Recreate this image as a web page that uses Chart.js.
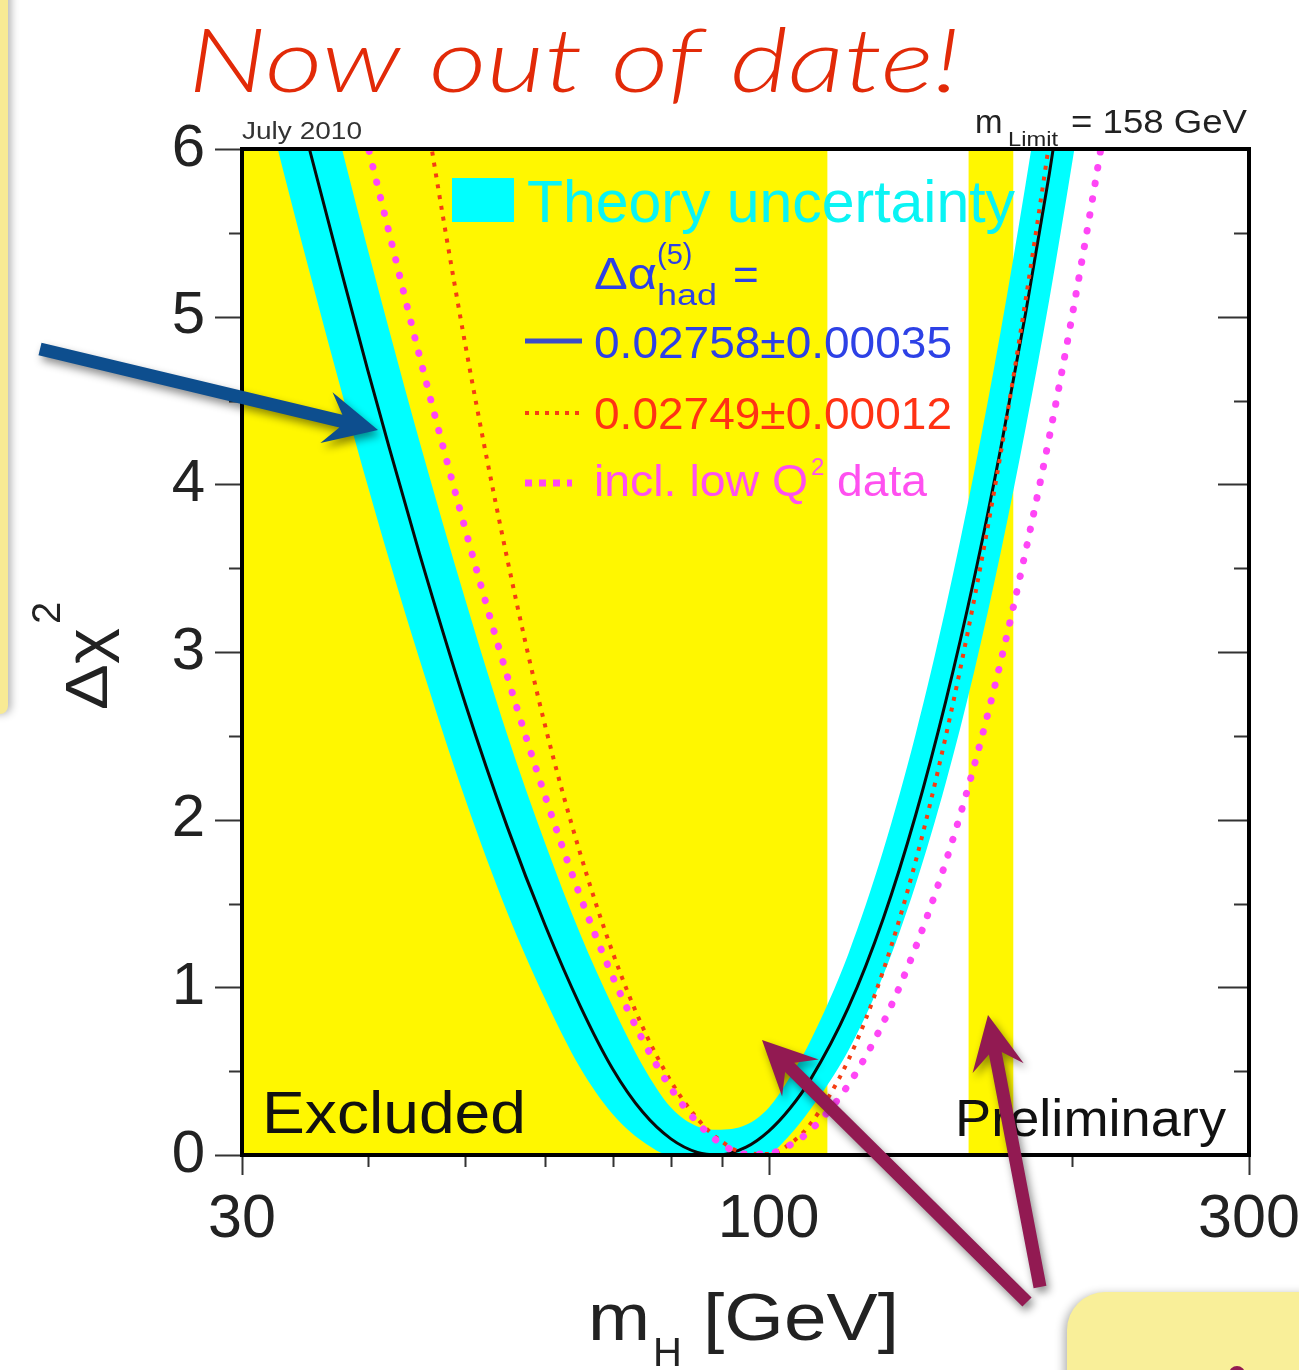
<!DOCTYPE html>
<html>
<head>
<meta charset="utf-8">
<script src="https://cdn.jsdelivr.net/npm/chart.js@4.4.1/dist/chart.umd.min.js"></script>
<style>
  html, body { margin: 0; padding: 0; background: #ffffff; overflow: hidden; }
  canvas { display: block; }
</style>
</head>
<body>
<canvas id="chart" width="1299" height="1370"></canvas>
<script>
// Higgs mass scan: delta chi^2 of the electroweak fit versus m_H (GeV)
const massH = [30, 33, 35, 38, 40, 42, 45, 50, 55, 60, 65, 70, 75, 80, 85, 89, 95, 100, 105, 110, 120, 130, 140, 150, 160, 170, 180, 190, 200, 210, 220];

// central fit, delta alpha_had = 0.02758 +- 0.00035
const chi2Fit = [7.64, 6.62, 6.00, 5.18, 4.68, 4.22, 3.59, 2.69, 1.96, 1.37, 0.89, 0.515, 0.256, 0.096, 0.015, 0.0, 0.047, 0.141, 0.277, 0.448, 0.879, 1.411, 2.028, 2.709, 3.437, 4.211, 5.02, 5.85, 6.71, 7.58, 8.47];

// theory uncertainty band (upper / lower edge)
const bandUpper = [8.44, 7.40, 6.78, 5.92, 5.40, 4.92, 4.26, 3.31, 2.51, 1.86, 1.32, 0.887, 0.533, 0.284, 0.17, 0.15, 0.18, 0.281, 0.464, 0.679, 1.198, 1.817, 2.511, 3.268, 4.07, 4.91, 5.79, 6.69, 7.60, 8.5, 9.4];
const bandLower = [6.86, 5.86, 5.27, 4.47, 3.99, 3.55, 2.96, 2.12, 1.45, 0.93, 0.52, 0.244, 0.080, 0.0, 0.0, 0.0, 0.0, 0.01, 0.12, 0.271, 0.622, 1.072, 1.614, 2.222, 2.881, 3.59, 4.334, 5.10, 5.90, 6.71, 7.55];

// delta alpha_had = 0.02749 +- 0.00012
const chi2Alt = [14.9, 12.6, 11.3, 9.57, 8.56, 7.66, 6.46, 4.83, 3.56, 2.56, 1.80, 1.21, 0.762, 0.439, 0.216, 0.099, 0.010, 0.006, 0.066, 0.184, 0.566, 1.10, 1.753, 2.50, 3.31, 4.18, 5.10, 6.04, 7.01, 8.00, 9.01];

// including low Q^2 data
const chi2LowQ2 = [9.34, 8.20, 7.52, 6.59, 6.02, 5.50, 4.77, 3.73, 2.86, 2.14, 1.545, 1.065, 0.686, 0.398, 0.193, 0.083, 0.005, 0.009, 0.059, 0.146, 0.418, 0.79, 1.24, 1.75, 2.32, 2.94, 3.60, 4.28, 4.99, 5.72, 6.46];

// direct search exclusions (GeV)
const excludedRanges = [[30, 114.4], [158, 175]];

// axes
const xTickValues = [30, 40, 50, 60, 70, 80, 90, 100, 200, 300];
const xLabelled = [30, 100, 300];
const yTickValues = [0, 1, 2, 3, 4, 5, 6];
const yMinorValues = [0.5, 1.5, 2.5, 3.5, 4.5, 5.5];

const FONT = '"Liberation Sans", Helvetica, Arial, sans-serif';
const C_YELLOW = '#fff700';
const C_CYAN = '#00ffff';
const C_RED = '#f53d12';
const C_MAGENTA = '#ff46f6';
const C_BLUE_TXT = '#2d41e6';
const C_PURPLE = '#921a52';

const toXY = ys => massH.map((m, i) => ({ x: m, y: ys[i] }));

function txt(ctx, s, x, y, px, color, opts = {}) {
  ctx.save();
  ctx.font = (opts.style || '') + ' ' + px + 'px ' + (opts.family || FONT);
  ctx.fillStyle = color;
  ctx.textAlign = 'left';
  ctx.textBaseline = 'alphabetic';
  ctx.translate(x, y);
  if (opts.rotate) ctx.rotate(opts.rotate);
  if (opts.width) {
    const w = ctx.measureText(s).width;
    ctx.scale(opts.width / w, 1);
  }
  ctx.fillText(s, 0, 0);
  ctx.restore();
}

function arrow(ctx, x0, y0, x1, y1, w, hl, hw, color) {
  const dx = x1 - x0, dy = y1 - y0, L = Math.hypot(dx, dy);
  const ux = dx / L, uy = dy / L, px = -uy, py = ux;
  const bx = x1 - ux * hl, by = y1 - uy * hl;
  const nx = x1 - ux * hl * 0.72, ny = y1 - uy * hl * 0.72;
  ctx.save();
  ctx.shadowColor = 'rgba(0,0,0,0.45)';
  ctx.shadowBlur = 9;
  ctx.shadowOffsetX = 3;
  ctx.shadowOffsetY = 5;
  ctx.fillStyle = color;
  ctx.beginPath();
  ctx.moveTo(x0 + px * w / 2, y0 + py * w / 2);
  ctx.lineTo(nx + px * w / 2, ny + py * w / 2);
  ctx.lineTo(bx + px * hw, by + py * hw);
  ctx.lineTo(x1, y1);
  ctx.lineTo(bx - px * hw, by - py * hw);
  ctx.lineTo(nx - px * w / 2, ny - py * w / 2);
  ctx.lineTo(x0 - px * w / 2, y0 - py * w / 2);
  ctx.closePath();
  ctx.fill();
  ctx.restore();
}

const decor = {
  id: 'decor',
  beforeDraw(chart) {
    const ctx = chart.ctx;
    ctx.save();
    ctx.fillStyle = '#ffffff';
    ctx.fillRect(0, 0, chart.width, chart.height);
    // slide frame strip on the left
    ctx.shadowColor = 'rgba(0,0,0,0.3)';
    ctx.shadowBlur = 8;
    ctx.shadowOffsetX = 3;
    ctx.fillStyle = '#f8ea94';
    ctx.beginPath();
    ctx.roundRect(-20, -20, 28, 734, 8);
    ctx.fill();
    ctx.restore();
  },
  beforeDatasetsDraw(chart) {
    const { ctx, chartArea: a, scales: { x } } = chart;
    ctx.save();
    ctx.fillStyle = C_YELLOW;
    excludedRanges.forEach(([lo, hi]) => {
      const x0 = x.getPixelForValue(lo), x1 = x.getPixelForValue(hi);
      ctx.fillRect(x0, a.top, x1 - x0, a.bottom - a.top);
    });
    ctx.restore();
  },
  afterDatasetsDraw(chart) {
    const ctx = chart.ctx;
    // legend
    ctx.save();
    ctx.fillStyle = C_CYAN;
    ctx.fillRect(452, 178, 62, 44);
    ctx.restore();
    txt(ctx, 'Theory uncertainty', 527, 222, 60, '#0af4f4', { width: 488 });
    txt(ctx, 'Δα', 594, 289, 44, C_BLUE_TXT, { width: 63 });
    txt(ctx, '(5)', 657, 264, 29, C_BLUE_TXT);
    txt(ctx, 'had', 657, 305, 30, C_BLUE_TXT, { width: 60 });
    txt(ctx, '=', 733, 290, 44, C_BLUE_TXT);
    ctx.save();
    ctx.strokeStyle = '#3b4cc8';
    ctx.lineWidth = 5;
    ctx.beginPath(); ctx.moveTo(525, 341); ctx.lineTo(582, 341); ctx.stroke();
    ctx.strokeStyle = C_RED;
    ctx.lineWidth = 4;
    ctx.setLineDash([4, 6]);
    ctx.beginPath(); ctx.moveTo(525, 413); ctx.lineTo(582, 413); ctx.stroke();
    ctx.strokeStyle = C_MAGENTA;
    ctx.lineWidth = 7;
    ctx.setLineDash([7, 7]);
    ctx.beginPath(); ctx.moveTo(525, 483); ctx.lineTo(572, 483); ctx.stroke();
    ctx.restore();
    txt(ctx, '0.02758±0.00035', 594, 358, 44, C_BLUE_TXT, { width: 358 });
    txt(ctx, '0.02749±0.00012', 594, 429, 44, '#ff3214', { width: 358 });
    txt(ctx, 'incl. low Q', 594, 496, 44, '#ff50f0', { width: 214 });
    txt(ctx, '2', 811, 475, 24, '#ff50f0');
    txt(ctx, 'data', 837, 496, 44, '#ff50f0', { width: 90 });
    txt(ctx, 'Excluded', 262, 1133, 60, '#111', { width: 264 });
    txt(ctx, 'Preliminary', 955, 1136, 52, '#111', { width: 271 });
  },
  afterDraw(chart) {
    const { ctx, chartArea: a, scales: { x, y } } = chart;
    ctx.save();
    // tick marks
    ctx.strokeStyle = '#333';
    ctx.lineWidth = 2;
    ctx.beginPath();
    yTickValues.forEach(v => {
      const py = Math.round(y.getPixelForValue(v)) + 0.5;
      ctx.moveTo(a.left - 27, py); ctx.lineTo(a.left, py);
      ctx.moveTo(a.right - 31, py); ctx.lineTo(a.right, py);
    });
    yMinorValues.forEach(v => {
      const py = Math.round(y.getPixelForValue(v)) + 0.5;
      ctx.moveTo(a.left - 13, py); ctx.lineTo(a.left, py);
      ctx.moveTo(a.right - 15, py); ctx.lineTo(a.right, py);
    });
    xTickValues.forEach(v => {
      const px = Math.round(x.getPixelForValue(v)) + 0.5;
      const len = xLabelled.includes(v) ? 20 : 12;
      ctx.moveTo(px, a.bottom); ctx.lineTo(px, a.bottom + len);
    });
    ctx.stroke();
    // frame
    ctx.strokeStyle = '#000';
    ctx.lineWidth = 4;
    ctx.strokeRect(a.left, a.top, a.right - a.left, a.bottom - a.top);
    ctx.restore();

    // header texts
    txt(ctx, 'July 2010', 242, 139, 23, '#333', { width: 120 });
    txt(ctx, 'm', 975, 133, 33, '#222');
    txt(ctx, 'Limit', 1008, 146, 21, '#222', { width: 50 });
    txt(ctx, '= 158 GeV', 1071, 133, 33, '#222', { width: 176 });

    // axis titles
    txt(ctx, 'm', 588, 1340, 66, '#222', { width: 62 });
    txt(ctx, 'H', 653, 1366, 40, '#222');
    txt(ctx, '[GeV]', 703, 1340, 66, '#222', { width: 196 });
    txt(ctx, 'Δχ', 107, 710, 60, '#222', { rotate: -Math.PI / 2, width: 82 });
    txt(ctx, '2', 60, 624, 40, '#222', { rotate: -Math.PI / 2 });

    // heading
    txt(ctx, 'Now out of date!', 188, 92, 88, '#e22a08', { style: 'italic 300', family: 'Lato, "Noto Sans", sans-serif', width: 772 });

    // pointer arrows
    arrow(ctx, 40, 349, 378, 430, 13, 53, 26, '#0d4e8e');
    arrow(ctx, 1027, 1302, 762, 1040, 13, 54, 26, C_PURPLE);
    arrow(ctx, 1040, 1287, 988, 1015, 13, 54, 26, C_PURPLE);

    // note box in the corner
    ctx.save();
    ctx.shadowColor = 'rgba(0,0,0,0.3)';
    ctx.shadowBlur = 10;
    ctx.shadowOffsetX = -3;
    ctx.shadowOffsetY = 2;
    ctx.fillStyle = '#f9ef99';
    ctx.beginPath();
    ctx.roundRect(1067, 1292, 300, 140, 38);
    ctx.fill();
    ctx.restore();
    ctx.save();
    ctx.fillStyle = C_PURPLE;
    ctx.beginPath();
    ctx.arc(1237, 1374, 8, 0, Math.PI * 2);
    ctx.fill();
    ctx.restore();
  }
};

new Chart(document.getElementById('chart'), {
  type: 'line',
  data: {
    datasets: [
      {
        label: 'incl. low Q2 data',
        data: toXY(chi2LowQ2),
        borderColor: C_MAGENTA,
        borderWidth: 7,
        borderDash: [0.5, 15.5],
        borderCapStyle: 'round',
        pointRadius: 0,
        cubicInterpolationMode: 'monotone',
        fill: false,
        order: 0
      },
      {
        label: '0.02749±0.00012',
        data: toXY(chi2Alt),
        borderColor: C_RED,
        borderWidth: 4,
        borderDash: [4, 7],
        pointRadius: 0,
        cubicInterpolationMode: 'monotone',
        fill: false,
        order: 1
      },
      {
        label: '0.02758±0.00035',
        data: toXY(chi2Fit),
        borderColor: '#0a0a0a',
        borderWidth: 3,
        pointRadius: 0,
        cubicInterpolationMode: 'monotone',
        fill: false,
        order: 2
      },
      {
        label: 'Theory uncertainty',
        data: toXY(bandUpper),
        borderColor: C_CYAN,
        borderWidth: 0,
        backgroundColor: C_CYAN,
        pointRadius: 0,
        cubicInterpolationMode: 'monotone',
        fill: '+1',
        order: 3
      },
      {
        label: 'band lower edge',
        data: toXY(bandLower),
        borderColor: C_CYAN,
        borderWidth: 0,
        pointRadius: 0,
        cubicInterpolationMode: 'monotone',
        fill: false,
        order: 4
      }
    ]
  },
  options: {
    responsive: false,
    animation: false,
    devicePixelRatio: 1,
    layout: { padding: { left: 0, right: 50, top: 149, bottom: 0 } },
    plugins: { legend: { display: false }, tooltip: { enabled: false } },
    scales: {
      x: {
        type: 'logarithmic',
        min: 30,
        max: 300,
        afterBuildTicks: s => { s.ticks = xTickValues.map(v => ({ value: v })); },
        afterFit: s => { s.height = 215; s.paddingLeft = 0; s.paddingRight = 0; },
        grid: { display: true, drawOnChartArea: false, drawTicks: false },
        border: { display: false },
        ticks: {
          autoSkip: false,
          maxRotation: 0,
          padding: 29,
          color: '#222',
          font: { family: FONT, size: 61 },
          callback: v => (xLabelled.includes(v) ? String(v) : '')
        }
      },
      y: {
        min: 0,
        max: 6,
        afterBuildTicks: s => { s.ticks = yTickValues.map(v => ({ value: v })); },
        afterFit: s => { s.width = 242; },
        grid: { display: true, drawOnChartArea: false, drawTicks: false },
        border: { display: false },
        ticks: {
          padding: 37,
          color: '#222',
          font: { family: FONT, size: 60 }
        }
      }
    }
  },
  plugins: [decor]
});
</script>
</body>
</html>
